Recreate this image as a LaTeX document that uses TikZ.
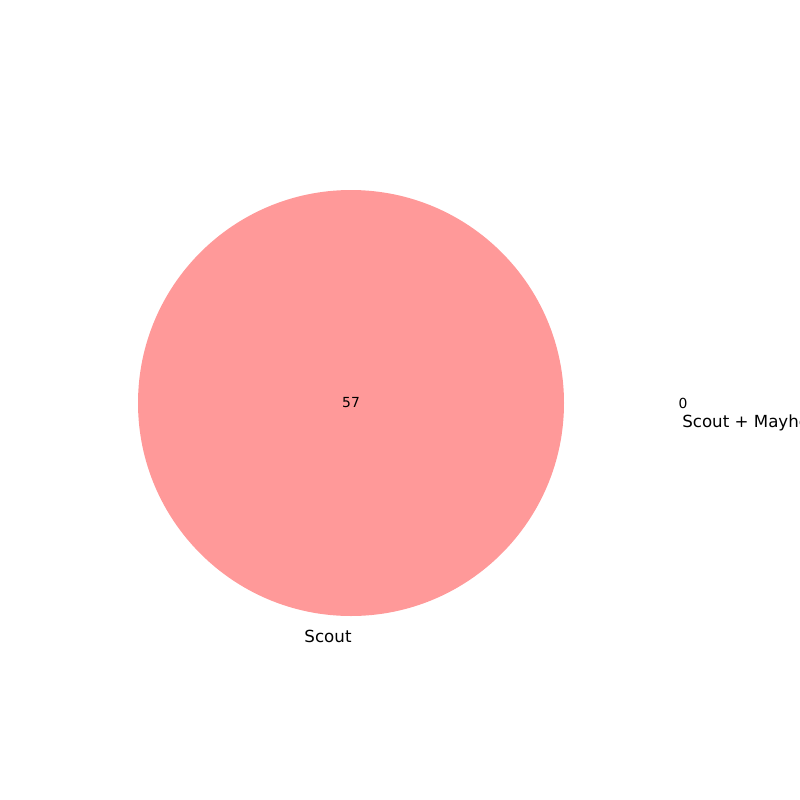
\documentclass[tikz,border=0pt]{standalone}
\usepackage{fontspec}
\setmainfont{DejaVu Sans}
\definecolor{scoutred}{HTML}{FF9999}
\tikzset{
  setcircle/.style={circle, fill=scoutred, draw=none, inner sep=0pt, minimum size=426},
  countlabel/.style={font=\fontsize{10.4}{12}\selectfont, inner sep=0pt},
  setlabel/.style={font=\fontsize{12.5}{14}\selectfont, inner sep=0pt}
}
\begin{document}
\begin{tikzpicture}[x=0.75pt,y=-0.75pt]
\useasboundingbox (0,0) rectangle (800,800);
\clip (0,0) rectangle (800,800);
\node[setcircle, minimum size=319.5pt] (scout) at (351,403) {};
\node[countlabel] (n57) at (scout.center) {57};
\node[countlabel] (n0) at (683,403) {0};
\node[setlabel] (lscout) at (328,636) {Scout};
\node[setlabel, anchor=west] (lboth) at (682,423) {Scout + Mayhem};
\end{tikzpicture}
\end{document}
